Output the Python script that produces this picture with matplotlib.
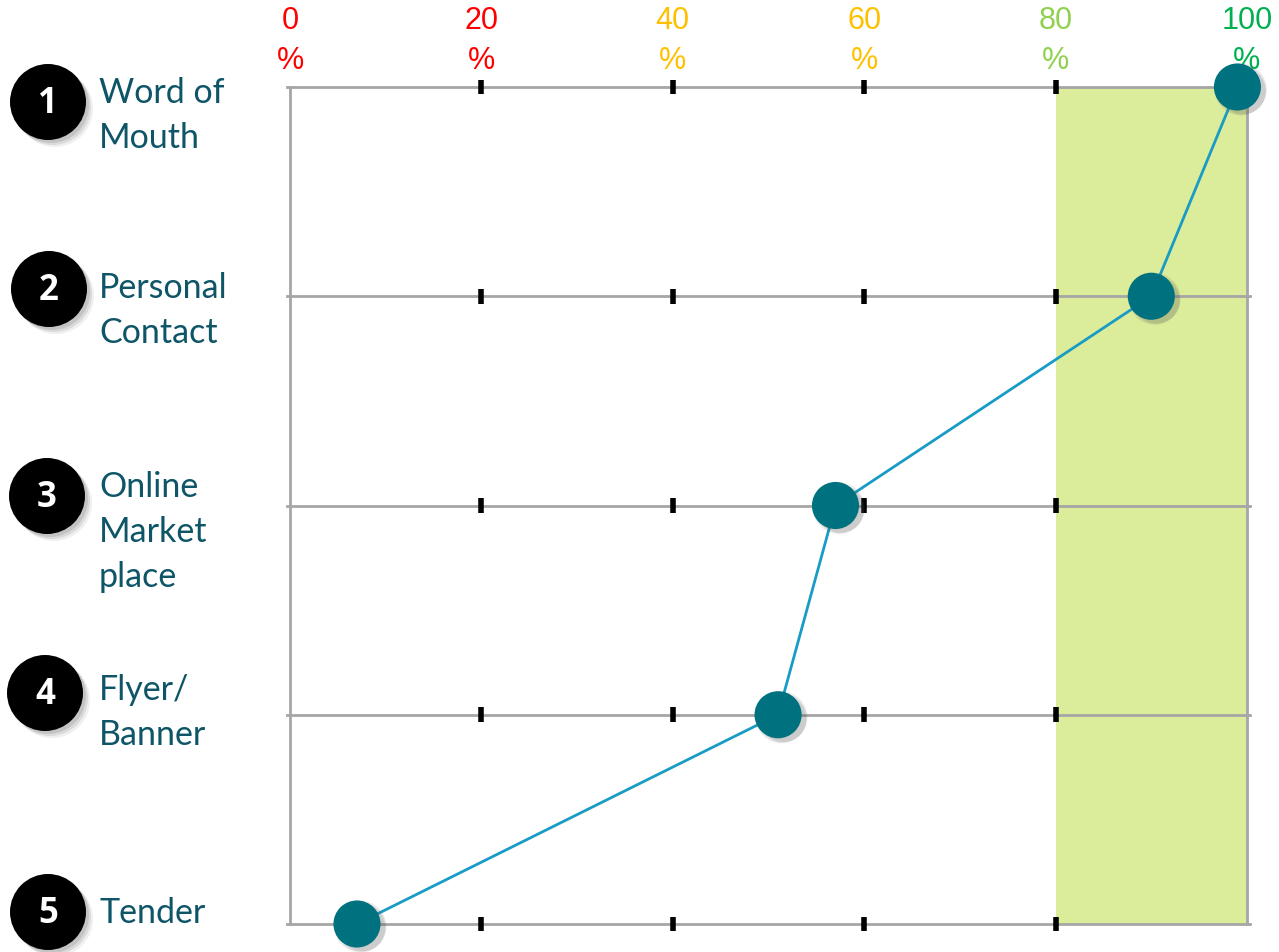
import matplotlib
matplotlib.use("Agg")
import matplotlib.pyplot as plt
from matplotlib.patches import Rectangle, Circle
from matplotlib.transforms import blended_transform_factory

# survey channels, top to bottom
channels = ["Word of\nMouth", "Personal\nContact", "Online\nMarket\nplace", "Flyer/\nBanner", "Tender"]
ranks = [1, 2, 3, 4, 5]
scores = [99, 90, 57, 51, 7]          # percent
pct_ticks = [0, 20, 40, 60, 80, 100]
pct_colors = ["#FF0000", "#FF0000", "#FFC000", "#FFC000", "#92D050", "#00B050"]
target_band = (80, 100)

W, H = 1279, 953
fig = plt.figure(figsize=(W / 100, H / 100), dpi=100)

# pixel-space overlay for the left-hand labels
ov = fig.add_axes([0, 0, 1, 1], zorder=-1)
ov.set_xlim(0, W)
ov.set_ylim(H, 0)
ov.axis("off")

# main axes: x in percent, y = rank
x0, x1 = 290, 1247
y_top, y_bot = 88, 925
ax = fig.add_axes([x0 / W, (H - y_bot) / H, (x1 - x0) / W, (y_bot - y_top) / H])
ax.set_xlim(0, 100)
ax.set_ylim(5, 1)
ax.axis("off")

# highlighted band
ax.add_patch(Rectangle((target_band[0], 1), target_band[1] - target_band[0], 4,
                       facecolor="#DBEC9A", edgecolor="none", zorder=0))

# frame lines
for r in ranks:
    ax.plot([-0.3, 100.3], [r, r], color="#A6A6A6", lw=2, zorder=1, clip_on=False)
ax.plot([0, 0], [1, 5], color="#A6A6A6", lw=2, zorder=1, clip_on=False)
ax.plot([100, 100], [1, 5], color="#A6A6A6", lw=2, zorder=1, clip_on=False)

# tick marks on each row
for r in ranks:
    for t in pct_ticks[1:-1]:
        ax.plot([t, t], [r - 0.035, r + 0.035], color="black", lw=4,
                solid_capstyle="butt", zorder=2, clip_on=False)

# top percentage labels
top = blended_transform_factory(ax.transData, ov.transData)
for t, c in zip(pct_ticks, pct_colors):
    ax.text(t, 21, f"{t}", color=c, fontsize=22, family="Liberation Sans",
            ha="center", va="center", transform=top, clip_on=False)
    ax.text(t, 61, "%", color=c, fontsize=22, family="Liberation Sans",
            ha="center", va="center", transform=top, clip_on=False)

# connecting line and markers with soft shadow
ax.plot(scores, ranks, color="#189CC6", lw=2, zorder=3, clip_on=False)
for dx, dy, a, s in [(0.35, 0.012, 0.10, 1400), (0.45, 0.016, 0.10, 1250), (0.55, 0.02, 0.12, 1100)]:
    ax.scatter([v + dx for v in scores], [r + dy for r in ranks], s=s,
               color="#555555", alpha=a, edgecolors="none", zorder=3, clip_on=False)
ax.scatter(scores, ranks, s=1150, color="#00727F", edgecolors="none",
           zorder=4, clip_on=False)

# left side: numbered badges and channel names
badge_xy = [(48, 103), (49, 290), (47, 497), (45, 694), (48, 913)]
label_y = [103, 298, 497, 700, 923]   # baseline of first line
for (bx, by), ly, r, name in zip(badge_xy, label_y, ranks, channels):
    for k, a in [(7, 0.08), (5, 0.12), (3, 0.15)]:
        ov.add_patch(Circle((bx + k, by + k), 38, color="#444444", alpha=a, lw=0))
    ov.add_patch(Circle((bx, by), 38, color="black", lw=0))
    ov.text(bx, by + 1, str(r), color="white", fontsize=25, fontweight="bold",
            family="Open Sans", ha="center", va="center")
    for i, line in enumerate(name.split("\n")):
        ov.text(99, ly + 45 * i, line, color="#0E5567", fontsize=24.5, family="Lato",
                ha="left", va="baseline")

fig.savefig("out.png", dpi=100, facecolor="white")
